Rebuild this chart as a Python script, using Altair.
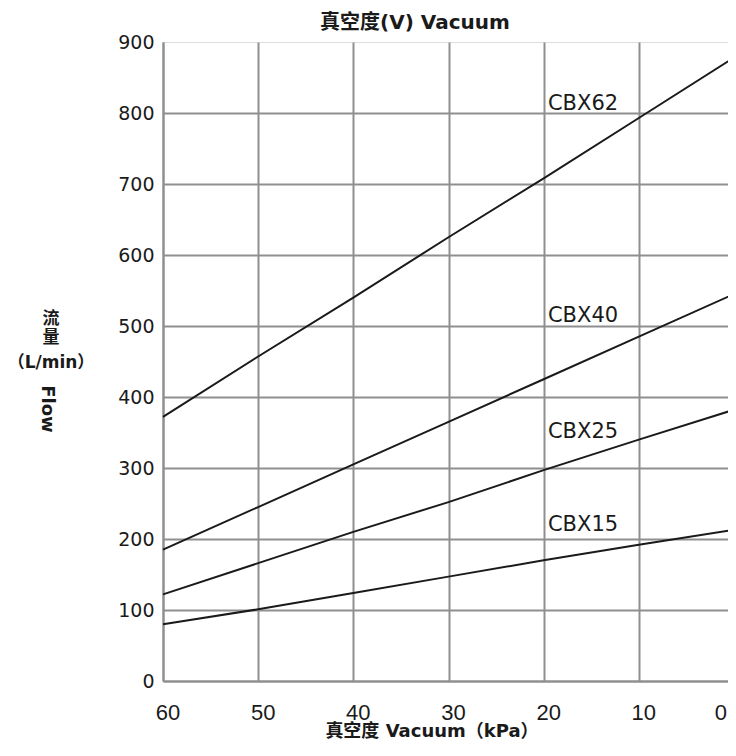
import altair as alt
import pandas as pd

vacuum = [60, 50, 40, 30, 20, 10, 0]
cbx62 = [372, 457, 540, 625, 708, 793, 878]
cbx40 = [185, 245, 305, 365, 425, 485, 545]
cbx25 = [122, 166, 210, 252, 297, 340, 382]
cbx15 = [80, 101, 124, 147, 170, 192, 213]

series_names = ["CBX62", "CBX40", "CBX25", "CBX15"]
series_vals = [cbx62, cbx40, cbx25, cbx15]
label_x = [19.55, 19.55, 19.55, 19.55]
label_y = [812, 514, 351, 220]

x_ticks = [60, 50, 40, 30, 20, 10, 0]
y_ticks = [0, 100, 200, 300, 400, 500, 600, 700, 800, 900]

rows = []
for name, vals in zip(series_names, series_vals):
    for xv, yv in zip(vacuum, vals):
        rows.append({"series": name, "vacuum": xv, "flow": yv})
df = pd.DataFrame(rows)
labels_df = pd.DataFrame({"series": series_names, "vacuum": label_x, "flow": label_y})
xtick_df = pd.DataFrame({"v": x_ticks, "lab": [str(t) for t in x_ticks]})

FONT = "DejaVu Sans"
NARROW = "'Liberation Sans Narrow', 'Liberation Sans', sans-serif"
CJK = "'DejaVu Sans', 'Noto Sans CJK SC', sans-serif"

xs = alt.Scale(domain=[0, 60], reverse=True, nice=False)
ys = alt.Scale(domain=[0, 900], nice=False)

lines = alt.Chart(df).mark_line(color="#1a1a1a", strokeWidth=2).encode(
    x=alt.X("vacuum:Q", scale=xs, axis=alt.Axis(
        values=x_ticks, title=None, grid=True, ticks=False, domain=True, labels=False,
        domainColor="#8f8f8f", domainWidth=2,
        gridColor="#8f8f8f", gridWidth=2, gridOpacity=1)),
    y=alt.Y("flow:Q", scale=ys, axis=alt.Axis(
        values=y_ticks, title=None, grid=True, ticks=False, domain=True,
        domainColor="#8f8f8f", domainWidth=2,
        gridColor="#8f8f8f", gridWidth=2,
        gridOpacity={"condition": {"test": "datum.value == 900", "value": 0}, "value": 1},
        labelFont=FONT, labelFontSize=19, labelColor="#1a1a1a",
        labelPadding=9)),
    detail="series:N",
)

xlab_main = alt.Chart(xtick_df).transform_filter("datum.v > 0").mark_text(
    font=NARROW, fontSize=22, color="#1a1a1a", baseline="middle", align="center", dx=5
).encode(x=alt.X("v:Q", scale=xs), y=alt.value(671), text="lab:N")

xlab_end = alt.Chart(xtick_df).transform_filter("datum.v == 0").mark_text(
    font=NARROW, fontSize=22, color="#1a1a1a", baseline="middle", align="right", dx=-7
).encode(x=alt.X("v:Q", scale=xs), y=alt.value(671), text="lab:N")

labels = alt.Chart(labels_df).mark_text(
    align="left", baseline="middle", font=FONT, fontSize=21, color="#1a1a1a"
).encode(x=alt.X("vacuum:Q", scale=xs), y=alt.Y("flow:Q", scale=ys), text="series:N")

top_title = alt.Chart(pd.DataFrame({"t": ["真空度(V) Vacuum"]})).mark_text(
    font=CJK, fontSize=20, fontWeight="bold", color="#1a1a1a", baseline="middle"
).encode(x=alt.value(252), y=alt.value(-19), text="t:N")

bottom_title = alt.Chart(pd.DataFrame({"t": ["真空度 Vacuum（kPa）"]})).mark_text(
    font=CJK, fontSize=18, fontWeight="bold", color="#1a1a1a", baseline="middle"
).encode(x=alt.value(269), y=alt.value(690), text="t:N")

ytitle_df = pd.DataFrame({"t": ["流", "量", "（L/min）"], "yy": [277, 296, 321]})
ytitle = alt.Chart(ytitle_df).mark_text(
    font=CJK, fontSize=17, fontWeight="bold", color="#1a1a1a", baseline="middle"
).encode(x=alt.value(-112), y=alt.Y("yy:Q", scale=None), text="t:N")

flow = alt.Chart(pd.DataFrame({"t": ["Flow"]})).mark_text(
    font=FONT, fontSize=18, fontWeight="bold", color="#1a1a1a", baseline="middle", angle=90
).encode(x=alt.value(-116), y=alt.value(367), text="t:N")

chart = alt.layer(lines, xlab_main, xlab_end, labels, top_title, bottom_title, ytitle, flow).properties(
    width=571, height=639,
    autosize=alt.AutoSizeParams(type="none"),
    padding={"left": 155, "top": 34, "right": -6, "bottom": 62},
).configure_view(stroke=None).configure(background="white")

chart.save("out.html", embed_options={"renderer": "svg", "actions": False})
